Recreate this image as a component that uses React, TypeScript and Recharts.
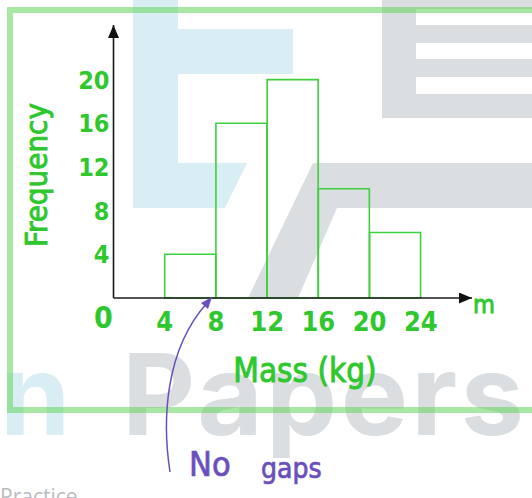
import React from "react";
import { ComposedChart, Bar, XAxis, YAxis } from "recharts";

// histogram: mass of items in 4 kg classes
const binStart = [4, 8, 12, 16, 20];
const frequency = [4, 16, 20, 10, 6];
const binWidth = 4;
const xTicks = [0, 4, 8, 12, 16, 20, 24];
const yTicks = [4, 8, 12, 16, 20];

const GREEN = "#2ec82e";
const BAR = "#3dcf3d";
const PURPLE = "#6a4fbc";
const HAND = "'DejaVu Sans Condensed', 'DejaVu Sans', sans-serif";
const DIGITS = "'Liberation Sans Narrow', 'DejaVu Sans Condensed', sans-serif";

const data = binStart.map((s, i) => ({ mid: s + binWidth / 2, freq: frequency[i] }));

function XTick(props: any) {
  const { x, y, payload } = props;
  if (payload.value === 0) {
    return (
      <text x={x - 10} y={y + 30} textAnchor="middle" fill={GREEN} fontSize={30} fontWeight="bold" fontFamily={DIGITS}>
        0
      </text>
    );
  }
  return (
    <text x={x} y={y + 33} textAnchor="middle" fill={GREEN} fontSize={27} fontWeight="bold" fontFamily={DIGITS}>
      {payload.value}
    </text>
  );
}

function YTick(props: any) {
  const { x, y, payload } = props;
  return (
    <text x={x - 4} y={y} dy="0.36em" textAnchor="end" fill={GREEN} fontSize={25} fontWeight="bold" fontFamily={DIGITS}>
      {payload.value}
    </text>
  );
}

function Watermark() {
  return (
    <svg width={532} height={498} style={{ position: "absolute", left: 0, top: 0 }}>
      <defs>
        <marker id="arrowHead" markerUnits="userSpaceOnUse" markerWidth={14} markerHeight={12}
          refX={13} refY={5.5} orient="auto-start-reverse">
          <path d="M0,0 L13,5.5 L0,11 z" fill="#111" />
        </marker>
      </defs>
      {/* blue logo part */}
      <polygon points="133,0 178,0 178,29 293,29 293,74 178,74 178,163 247,163 225,208 133,208" fill="#d9edf5" />
      {/* grey logo part */}
      <rect x={382} y={0} width={150} height={118} fill="#dadee1" />
      <rect x={416} y={9} width={116} height={16} fill="#fff" />
      <rect x={416} y={43} width={116} height={16} fill="#fff" />
      <rect x={416} y={77} width={116} height={17} fill="#fff" />
      <polygon points="313,163 532,163 532,208 337,208 298,298 248,298" fill="#dadee1" />
      <text x={0} y={435} fontSize={113} fontWeight={700} fontFamily="Inter, 'Open Sans', sans-serif" fill="#d9edf5">n</text>
      <text x={122} y={435} fontSize={113} fontWeight={700} fontFamily="Inter, 'Open Sans', sans-serif"
        fill="#dadee1" textLength={402} lengthAdjust="spacing">Papers</text>
      <text x={0} y={504} fontSize={21} fontFamily="'Open Sans', sans-serif" fill="#b9bcc0">Practice</text>
      {/* frame */}
      <path d="M10,413 L10,10 L540,10 M10,410 L540,410" stroke="rgb(99,213,90)" strokeOpacity={0.55} strokeWidth={6} fill="none" />
    </svg>
  );
}

function Notes() {
  return (
    <svg width={532} height={498} style={{ position: "absolute", left: 0, top: 0, pointerEvents: "none" }}>
      <g stroke={GREEN} strokeWidth={0.9} fill={GREEN} fontFamily={HAND}>
        <text transform="translate(47,175) rotate(-90)" textAnchor="middle" fontSize={31}>
          Frequency
        </text>
        <text x={305} y={382} textAnchor="middle" fontSize={33}>
          Mass (kg)
        </text>
        <text x={473} y={313} fontSize={25}>m</text>
      </g>
      <path d="M170,472 C162,420 165,350 207,303" stroke={PURPLE} strokeWidth={1.5} fill="none" />
      <path d="M212,297 L201,303 L208,309 z" fill={PURPLE} />
      <g stroke={PURPLE} strokeWidth={0.7} fill={PURPLE} fontFamily={HAND}>
        <text x={189} y={476} fontSize={34}>No</text>
        <text x={261} y={478} fontSize={28}>gaps</text>
      </g>
    </svg>
  );
}

export default function App() {
  return (
    <div style={{ position: "absolute", left: 0, top: 0, width: 532, height: 498, overflow: "hidden", background: "#fff" }}>
      <Watermark />
      <div style={{ position: "absolute", left: 0, top: 0 }}>
        <ComposedChart width={532} height={498} data={data} barCategoryGap={0} barGap={0}
          margin={{ top: 25, right: 60, bottom: 199, left: 112.5 }}>
          <XAxis dataKey="mid" type="number" domain={[0, 28]} ticks={xTicks} interval={0} height={1}
            tickLine={false} tickSize={0} tickMargin={0} tick={<XTick />}
            axisLine={{ stroke: "#1a1a1a", strokeWidth: 1.6, markerEnd: "url(#arrowHead)" }} />
          <YAxis type="number" domain={[0, 25]} ticks={yTicks} interval={0} width={1}
            tickLine={false} tickSize={0} tickMargin={0} tick={<YTick />}
            axisLine={{ stroke: "#1a1a1a", strokeWidth: 1.6, markerStart: "url(#arrowHead)" }} />
          <Bar dataKey="freq" fill="none" stroke={BAR} strokeWidth={1.6} isAnimationActive={false} />
        </ComposedChart>
      </div>
      <Notes />
    </div>
  );
}
